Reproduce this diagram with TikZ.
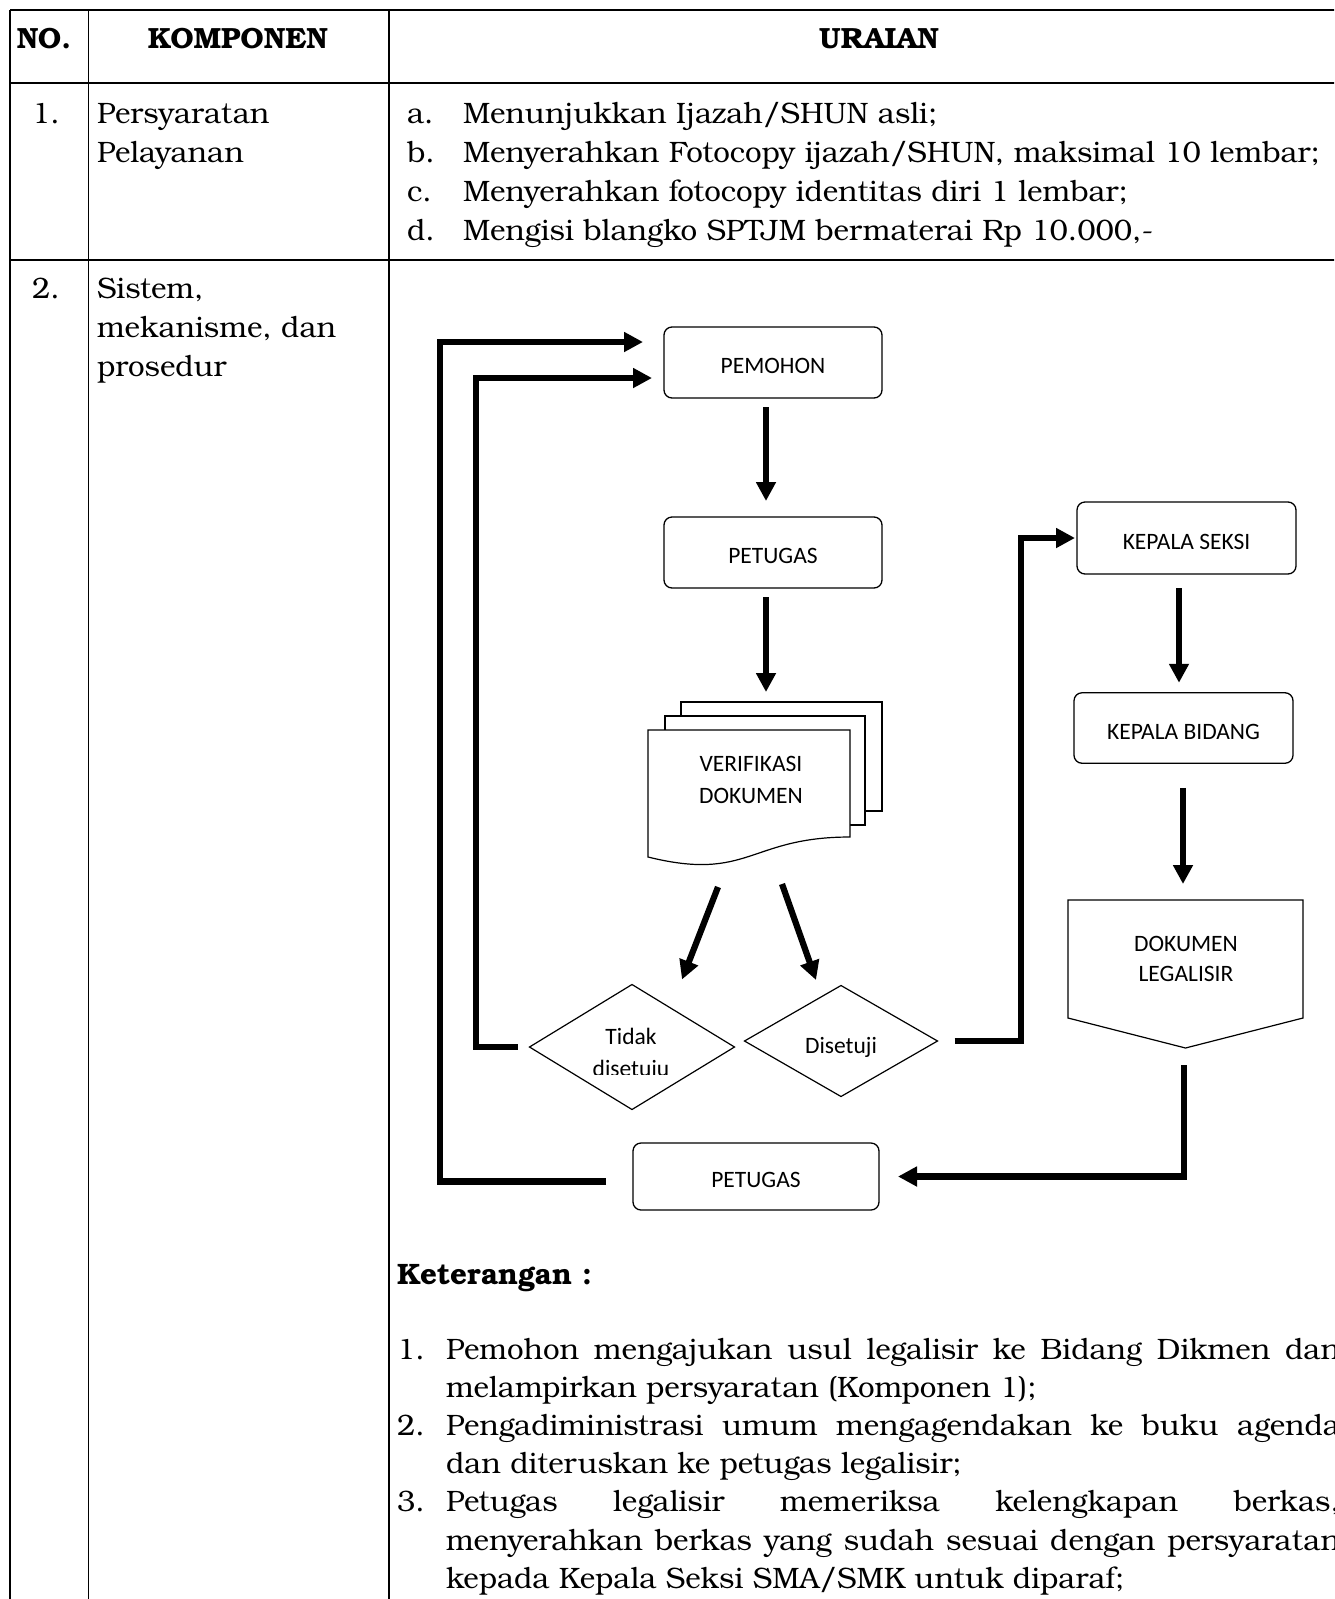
\documentclass[tikz,border=0pt]{standalone}
\usepackage{fontspec}
\setmainfont{texgyrebonum-regular.otf}[BoldFont=texgyrebonum-bold.otf]
\newfontfamily\flowfont{Carlito}
\usetikzlibrary{arrows.meta,shapes.geometric}
\begin{document}
\begin{tikzpicture}[x=1pt,y=-1pt,
  every node/.style={inner sep=0pt, outer sep=0pt},
  tline/.style={line width=1.2pt},
  body/.style={font=\fontsize{29.5}{38}\selectfont},
  tl/.style={body, anchor=base west},
  tc/.style={body, anchor=base},
  hdr/.style={font=\fontsize{29.2}{38}\selectfont\bfseries, anchor=base},
  flow/.style={font=\flowfont\fontsize{23.5}{28}\selectfont},
  fbox/.style={flow, draw, line width=1.3pt, rounded corners=8pt, fill=white, text height=24pt, text depth=2pt},
  dia/.style={flow, draw, line width=1.2pt, diamond, fill=white},
  sheet/.style={draw, fill=white, line width=1.2pt},
  ft/.style={flow, anchor=base},
  arr/.style={line width=6.2pt, line join=miter, -{Triangle[length=19pt,width=19pt]}},
]
\useasboundingbox (0,0) rectangle (1334,1599);
\fill[white] (0,0) rectangle (1334,1599);
\clip (0,0) rectangle (1334,1599);

% ---------- table frame ----------
\draw[tline] (10,10) -- (1340,10);
\draw[tline] (10,83) -- (1340,83);
\draw[tline] (10,260) -- (1340,260);
\draw[tline] (10,10) -- (10,1605);
\draw[tline] (88.5,10) -- (88.5,1605);
\draw[tline] (389,10) -- (389,1605);

% ---------- header ----------
\node[hdr] (hno) at (44,48) {NO.};
\node[hdr] (hkomp) at (238,48) {KOMPONEN};
\node[hdr] (hur) at (879,48) {URAIAN};

% ---------- row 1 ----------
\node[tc] (n1) at (46,123) {1.};
\node[tl] (k1a) at (97,123) {Persyaratan};
\node[tl] (k1b) at (97,162) {Pelayanan};
\node[tl] (la) at (407,123) {a.};
\node[tl] (ua) at (463,123) {Menunjukkan Ijazah/SHUN asli;};
\node[tl] (lb) at (407,162) {b.};
\node[tl] (ub) at (463,162) {Menyerahkan Fotocopy ijazah/SHUN, maksimal 10 lembar;};
\node[tl] (lc) at (407,201) {c.};
\node[tl] (uc) at (463,201) {Menyerahkan fotocopy identitas diri 1 lembar;};
\node[tl] (ld) at (407,240) {d.};
\node[tl] (ud) at (463,240) {Mengisi blangko SPTJM bermaterai Rp 10.000,-};

% ---------- row 2 ----------
\node[tc] (n2) at (46,298) {2.};
\node[tl] (k2a) at (97,298) {Sistem,};
\node[tl] (k2b) at (97,337) {mekanisme, dan};
\node[tl] (k2c) at (97,376) {prosedur};

% ---------- flowchart ----------
\node[fbox, minimum width=218pt, minimum height=71pt] (pemohon) at (773,362.5) {PEMOHON};
\node[fbox, minimum width=218pt, minimum height=71pt] (pet1) at (773,552.5) {PETUGAS};

% multi-document
\node[minimum width=202pt, minimum height=127pt] (verif) at (749,793.5) {};
\path[sheet] (681,702) rectangle (882,811);
\path[sheet] (665,716) rectangle (865,825);
\path[sheet] (verif.north west) -- (verif.north east) -- (850,837)
  .. controls (749,837) and (749,882) .. (verif.south west) -- cycle;
\node[ft] (vt1) at (751,771.4) {VERIFIKASI};
\node[ft] (vt2) at (751,803) {DOKUMEN};

% decisions
\node[dia, minimum width=205pt, minimum height=125pt] (tidak) at (632,1047) {};
\node[ft] (tdk1) at (631,1044) {Tidak};
\begin{scope}
  \clip (540,1050) rectangle (725,1074);
  \node[ft] (tdk2) at (631,1076) {disetuju};
\end{scope}
\node[dia, minimum width=193pt, minimum height=111pt, text height=26pt, text depth=2pt] (disetuji) at (841,1041) {Disetuji};

\node[fbox, minimum width=246pt, minimum height=67pt] (pet2) at (756,1176.5) {PETUGAS};

% right column
\node[fbox, minimum width=219pt, minimum height=72pt] (kseksi) at (1186.5,538) {KEPALA SEKSI};
\node[fbox, minimum width=219pt, minimum height=70.5pt] (kbidang) at (1183.5,728) {KEPALA BIDANG};
\node[minimum width=235pt, minimum height=148pt] (dokleg) at (1185.5,974) {};
\path[sheet] (dokleg.north west) -- (dokleg.north east) -- ([yshift=30pt]dokleg.south east)
  -- (dokleg.south) -- ([yshift=30pt]dokleg.south west) -- cycle;
\node[ft] (dl1) at (1186,951) {DOKUMEN};
\node[ft] (dl2) at (1186,981.3) {LEGALISIR};

% connectors
\draw[arr] ([xshift=-7pt,yshift=-9pt]pemohon.south) -- ([xshift=-7pt,yshift=16pt]pet1.north);
\draw[arr] ([xshift=-7pt,yshift=-9pt]pet1.south) -- ([xshift=17pt,yshift=38pt]verif.north);
\draw[arr] ([xshift=-31pt,yshift=-30pt]verif.south) -- ([xshift=50pt,yshift=5pt]tidak.north);
\draw[arr] ([xshift=33pt,yshift=-27pt]verif.south) -- ([xshift=-25pt,yshift=5.5pt]disetuji.north);
\draw[arr] ([xshift=-7.5pt,yshift=-14pt]kseksi.south) -- ([xshift=-4.5pt,yshift=10pt]kbidang.north);
\draw[arr] ([xshift=-0.5pt,yshift=-24.5pt]kbidang.south) -- ([xshift=-2.5pt,yshift=16pt]dokleg.north);
\draw[arr] ([xshift=-1.5pt,yshift=-17pt]dokleg.south) |- ([xshift=19pt]pet2.east);
\draw[arr] ([xshift=17pt]disetuji.east) -- ++(66.5,0) |- ([xshift=-2pt]kseksi.west);
\draw[arr] ([xshift=-12pt]tidak.west) -- ++(-41.5,0) |- ([xshift=-12pt,yshift=-15.5pt]pemohon.west);
\draw[arr] ([xshift=-27pt,yshift=-5pt]pet2.west) -- ++(-166,0) |- ([xshift=-21pt,yshift=20.5pt]pemohon.west);

% ---------- keterangan ----------
\node[tl, font=\fontsize{29.5}{38}\selectfont\bfseries] (ket) at (397,1284) {Keterangan :};
\node[tl] (m1) at (397,1359) {1.};
\node[tl] (e1a) at (446,1359) {\makebox[894pt][s]{Pemohon mengajukan usul legalisir ke Bidang Dikmen dan}};
\node[tl] (e1b) at (446,1397.2) {melampirkan persyaratan (Komponen 1);};
\node[tl] (m2) at (397,1435.4) {2.};
\node[tl] (e2a) at (446,1435.4) {\makebox[894pt][s]{Pengadiministrasi umum mengagendakan ke buku agenda}};
\node[tl] (e2b) at (446,1473.6) {dan diteruskan ke petugas legalisir;};
\node[tl] (m3) at (397,1511.8) {3.};
\node[tl] (e3a) at (446,1511.8) {\makebox[894pt][s]{Petugas legalisir memeriksa kelengkapan berkas,}};
\node[tl] (e3b) at (446,1550) {\makebox[894pt][s]{menyerahkan berkas yang sudah sesuai dengan persyaratan}};
\node[tl] (e3c) at (446,1588.2) {kepada Kepala Seksi SMA/SMK untuk diparaf;};
\end{tikzpicture}
\end{document}
